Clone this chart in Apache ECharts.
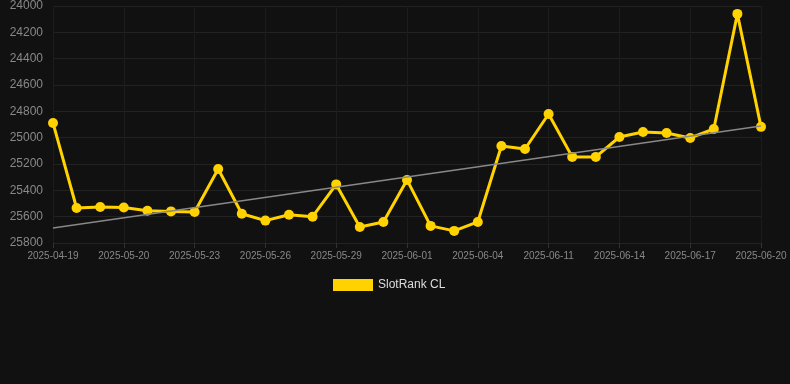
<!DOCTYPE html>
<html>
<head>
<meta charset="utf-8">
<script src="https://cdn.jsdelivr.net/npm/echarts@6/dist/echarts.min.js"></script>
<style>
  html, body { margin: 0; padding: 0; background: #111111; }
  #chart { width: 790px; height: 384px; }
</style>
</head>
<body>
<div id="chart"></div>
<script>
// dates (only every 3rd is labelled on the axis)
var dates = [
  '2025-04-19', '2025-05-18', '2025-05-19', '2025-05-20', '2025-05-21', '2025-05-22',
  '2025-05-23', '2025-05-24', '2025-05-25', '2025-05-26', '2025-05-27', '2025-05-28',
  '2025-05-29', '2025-05-30', '2025-05-31', '2025-06-01', '2025-06-02', '2025-06-03',
  '2025-06-04', '2025-06-05', '2025-06-08', '2025-06-11', '2025-06-12', '2025-06-13',
  '2025-06-14', '2025-06-15', '2025-06-16', '2025-06-17', '2025-06-18', '2025-06-19',
  '2025-06-20'
];
// rank values (lower is better, axis is inverted)
var ranks = [
  24888, 25534, 25526, 25530, 25555, 25560,
  25565, 25238, 25578, 25630, 25585, 25600,
  25355, 25678, 25640, 25321, 25670, 25708,
  25640, 25063, 25086, 24820, 25146, 25146,
  24995, 24957, 24965, 25002, 24934, 24060,
  24918
];
// trend line ends
var trendEnds = [25686, 24911];
var yTicks = { min: 24000, max: 25800, step: 200 };

var option = {
  backgroundColor: '#111111',
  animation: false,
  grid: { left: 53, right: 29, top: 6, bottom: 141 },
  legend: {
    bottom: 88,
    left: 328,
    itemWidth: 40,
    itemHeight: 12,
    itemGap: 6,
    icon: 'rect',
    textStyle: { color: '#dddddd', fontSize: 12, fontFamily: 'Arial, Liberation Sans, sans-serif' },
    data: ['SlotRank CL']
  },
  xAxis: {
    type: 'category',
    data: dates,
    boundaryGap: false,
    axisLine: { show: false },
    axisTick: { show: true, interval: 2, length: 5, lineStyle: { color: '#333333' } },
    axisLabel: {
      interval: 2,
      color: '#888888',
      fontSize: 10,
      margin: 8,
      fontFamily: 'Arial, Liberation Sans, sans-serif'
    },
    splitLine: { show: true, interval: 2, lineStyle: { color: '#1c1c1c' } }
  },
  yAxis: {
    type: 'value',
    inverse: true,
    min: yTicks.min,
    max: yTicks.max,
    interval: yTicks.step,
    axisLine: { show: false },
    axisTick: { show: false },
    axisLabel: {
      color: '#888888',
      fontSize: 12,
      margin: 10,
      formatter: function (v) { return String(v); },
      fontFamily: 'Arial, Liberation Sans, sans-serif'
    },
    splitLine: { lineStyle: { color: '#222222' } }
  },
  series: [{
    name: 'SlotRank CL',
    type: 'line',
    data: ranks,
    symbol: 'circle',
    symbolSize: 10,
    lineStyle: { color: '#FFD200', width: 3 },
    itemStyle: { color: '#FFD200' },
    z: 3,
    markLine: {
      silent: true,
      symbol: 'none',
      label: { show: false },
      lineStyle: { color: '#888888', width: 1.5, type: 'solid' },
      data: [[
        { coord: [dates[0], trendEnds[0]] },
        { coord: [dates[dates.length - 1], trendEnds[1]] }
      ]]
    }
  }]
};

var myChart = echarts.init(document.getElementById('chart'));
myChart.setOption(option);
</script>
</body>
</html>
